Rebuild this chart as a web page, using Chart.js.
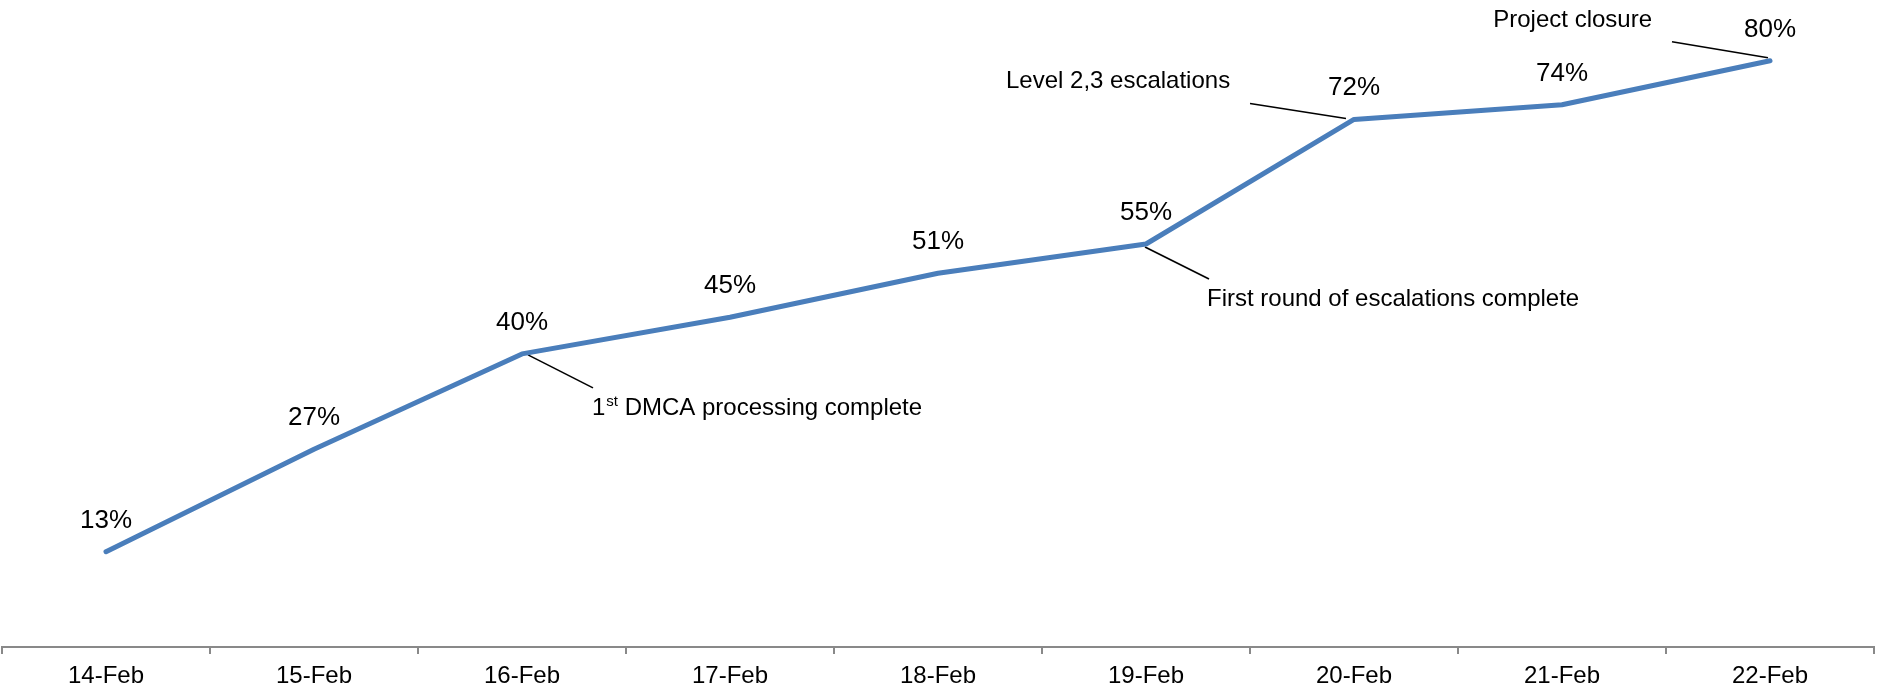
<!DOCTYPE html>
<html>
<head>
<meta charset="utf-8">
<script src="https://cdn.jsdelivr.net/npm/chart.js@4/dist/chart.umd.min.js"></script>
<style>
    body { margin: 0; background: #fff; }
    #progress-chart { display: block; }
</style>
</head>
<body>
<canvas id="progress-chart" width="1877" height="688"></canvas>
<script>
const dayLabels = ["14-Feb", "15-Feb", "16-Feb", "17-Feb", "18-Feb", "19-Feb", "20-Feb", "21-Feb", "22-Feb"];
const progressValues = [13, 27, 40, 45, 51, 55, 72, 74, 80];
const noteTexts = ["1st DMCA processing complete", "First round of escalations complete", "Level 2,3 escalations", "Project closure"];
const notePoints = [2, 5, 6, 8];

const FONT = '"Liberation Sans", Arial, sans-serif';

// where each callout sits relative to its point (line start, line end, text anchor)
const noteLayout = [
    { line: [6, 1, 71, 34], text: [70, 61], align: 'left', sup: 1 },
    { line: [-1, 3, 63, 35], text: [61, 62], align: 'left' },
    { line: [-104, -16, -8, -1], text: [-348, -31], align: 'left' },
    { line: [-98, -19, -2, -3], text: [-118, -34], align: 'right' }
];

const calloutPlugin = {
    id: 'callouts',
    beforeDatasetsDraw(chart) {
        const ctx = chart.ctx;
        const pts = chart.getDatasetMeta(0).data;
        ctx.save();
        ctx.strokeStyle = '#000';
        ctx.lineWidth = 1.6;
        notePoints.forEach((idx, i) => {
            const p = pts[idx];
            const l = noteLayout[i].line;
            ctx.beginPath();
            ctx.moveTo(p.x + l[0], p.y + l[1]);
            ctx.lineTo(p.x + l[2], p.y + l[3]);
            ctx.stroke();
        });
        ctx.restore();
    },
    afterDatasetsDraw(chart) {
        const ctx = chart.ctx;
        const pts = chart.getDatasetMeta(0).data;
        ctx.save();
        ctx.fillStyle = '#000';
        ctx.textBaseline = 'alphabetic';

        // value labels
        ctx.font = '26px ' + FONT;
        ctx.textAlign = 'center';
        pts.forEach((p, i) => {
            ctx.fillText(progressValues[i] + '%', p.x, p.y - 24);
        });

        // callout texts
        notePoints.forEach((idx, i) => {
            const p = pts[idx];
            const lay = noteLayout[i];
            let x = p.x + lay.text[0];
            const y = p.y + lay.text[1];
            const txt = noteTexts[i];
            ctx.font = '24px ' + FONT;
            if (lay.sup) {
                ctx.textAlign = 'left';
                const head = txt.slice(0, lay.sup);
                const sup = txt.slice(lay.sup, lay.sup + 2);
                const rest = txt.slice(lay.sup + 2);
                ctx.fillText(head, x, y);
                x += ctx.measureText(head).width + 1;
                ctx.font = '15px ' + FONT;
                ctx.fillText(sup, x, y - 9);
                x += ctx.measureText(sup).width;
                ctx.font = '24px ' + FONT;
                ctx.fillText(rest, x, y);
            } else {
                ctx.textAlign = lay.align;
                ctx.fillText(txt, x, y);
            }
        });
        ctx.restore();
    }
};

const progressCanvas = document.getElementById("progress-chart").getContext("2d");

const progressData = {
    labels: dayLabels,
    datasets: [{
        data: progressValues,
        borderColor: '#4a7ebb',
        borderWidth: 5,
        borderCapStyle: 'round',
        borderJoinStyle: 'round',
        pointRadius: 0,
        tension: 0,
        fill: false
    }]
};

const progressOptions = {
    responsive: false,
    devicePixelRatio: 1,
    animation: false,
    layout: {
        padding: { left: 2, right: 3, top: 0, bottom: 0 }
    },
    scales: {
        x: {
            offset: true,
            afterFit(scale) { scale.height = 41; },
            border: { display: true, color: '#898989', width: 2 },
            grid: {
                offset: true,
                drawOnChartArea: false,
                drawTicks: true,
                tickLength: 7,
                color: '#898989',
                lineWidth: 2
            },
            ticks: {
                color: '#000',
                padding: 8,
                font: { family: FONT, size: 24 },
                maxRotation: 0,
                autoSkip: false
            }
        },
        y: {
            display: false,
            min: 0,
            max: 88.3
        }
    },
    plugins: {
        legend: { display: false },
        tooltip: { enabled: false }
    }
};

let progressChart = new Chart(progressCanvas, {
    type: 'line',
    data: progressData,
    options: progressOptions,
    plugins: [calloutPlugin]
});
</script>
</body>
</html>
